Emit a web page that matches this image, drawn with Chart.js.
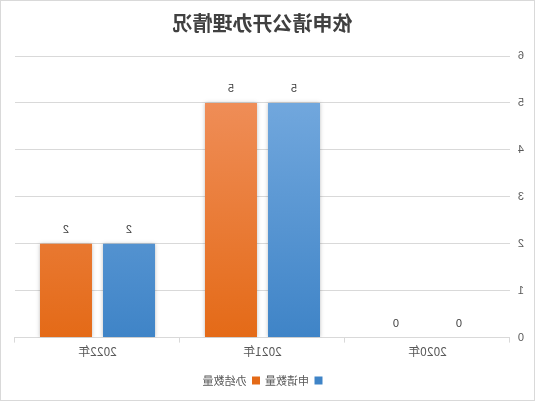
<!DOCTYPE html>
<html>
<head>
<meta charset="utf-8">
<script src="https://cdn.jsdelivr.net/npm/chart.js@4/dist/chart.umd.min.js"></script>
<style>
  html, body { margin: 0; padding: 0; background: #fff; }
  #wrap {
    position: absolute; left: 0; top: 0;
    width: 533px; height: 399px;
    border: 1px solid #d9d9d9;
    transform: scaleX(-1);
  }
</style>
</head>
<body>
<div id="wrap"><canvas id="chart" width="533" height="399"></canvas></div>
<script>
// chart data
const categories = ['2020年', '2021年', '2022年'];
const applyCounts = [0, 5, 2];   // 申请数量
const doneCounts = [0, 5, 2];    // 办结数量
const yTicks = [0, 1, 2, 3, 4, 5, 6];

// vertical gradient for the bars
const makeGradient = (chart, top, bottom) => {
    const area = chart.chartArea;
    if (!area) return bottom;
    const g = chart.ctx.createLinearGradient(0, area.top + 47, 0, area.bottom);
    g.addColorStop(0, top);
    g.addColorStop(1, bottom);
    return g;
};

// values above the bars + soft shadow
const labelPlugin = {
    id: 'barLabels',
    beforeDatasetsDraw(chart) {
        const ctx = chart.ctx;
        ctx.save();
        ctx.shadowColor = 'rgba(0,0,0,0.25)';
        ctx.shadowBlur = 4;
        ctx.shadowOffsetX = 0;
        ctx.shadowOffsetY = 0;
    },
    afterDatasetsDraw(chart) {
        const ctx = chart.ctx;
        ctx.restore();
        ctx.save();
        ctx.font = '11px "Liberation Sans", Arial, sans-serif';
        ctx.fillStyle = '#404040';
        ctx.textAlign = 'center';
        ctx.textBaseline = 'bottom';
        chart.data.datasets.forEach((ds, i) => {
            chart.getDatasetMeta(i).data.forEach((bar, j) => {
                ctx.fillText(String(ds.data[j]), bar.x, bar.y - 8);
            });
        });
        ctx.restore();
    }
};

const myChart = document.getElementById('chart');

let chart = new Chart(myChart, {
    type: 'bar',
    data: {
        labels: categories,
        datasets: [{
            label: '申请数量',
            data: applyCounts,
            backgroundColor: (c) => makeGradient(c.chart, '#71a7dd', '#3f84c7'),
            categoryPercentage: 0.764,
            barPercentage: 0.825
        }, {
            label: '办结数量',
            data: doneCounts,
            backgroundColor: (c) => makeGradient(c.chart, '#ef8d57', '#e46a17'),
            categoryPercentage: 0.764,
            barPercentage: 0.825
        }]
    },
    plugins: [labelPlugin],
    options: {
        responsive: false,
        animation: false,
        devicePixelRatio: 1,
        layout: { padding: { left: 0, right: 14, top: 0, bottom: 4 } },
        plugins: {
            title: {
                display: true,
                fullSize: false,
                text: '依申请公开办理情况',
                color: '#404040',
                font: { size: 20, weight: 'bold', family: '"Noto Sans CJK SC", sans-serif' },
                padding: { top: 10, bottom: 21 }
            },
            legend: {
                position: 'bottom',
                fullSize: false,
                labels: {
                    boxWidth: 8,
                    boxHeight: 8,
                    color: '#595959',
                    font: { size: 11, family: '"Noto Sans CJK SC", sans-serif' },
                    padding: 5
                }
            },
            tooltip: { enabled: false }
        },
        scales: {
            x: {
                afterFit: (axis) => { axis.height += 9; },
                grid: {
                    display: true,
                    drawOnChartArea: false,
                    drawTicks: true,
                    tickLength: 5,
                    color: '#d9d9d9'
                },
                border: { color: '#d9d9d9' },
                ticks: {
                    color: '#595959',
                    font: { size: 12, family: '"Noto Sans CJK SC", sans-serif' },
                    padding: 2
                }
            },
            y: {
                min: 0,
                max: 6,
                afterBuildTicks: (axis) => { axis.ticks = yTicks.map(v => ({ value: v })); },
                afterFit: (axis) => { axis.width = 24; },
                grid: { color: '#d9d9d9', drawTicks: false },
                border: { display: false },
                ticks: {
                    color: '#595959',
                    font: { size: 11, family: '"Liberation Sans", Arial, sans-serif' },
                    padding: 8
                }
            }
        }
    }
});
</script>
</body>
</html>
